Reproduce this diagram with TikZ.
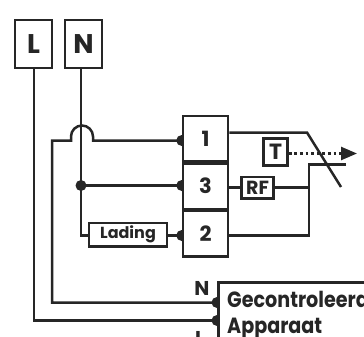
\documentclass[tikz,border=0pt]{standalone}
\usepackage{fontspec}
\setmainfont{Poppins}
\newfontfamily\smalfont{Poppins}[FakeStretch=0.87]
\usetikzlibrary{arrows.meta,backgrounds}

\begin{document}
\begin{tikzpicture}[
    x=1pt, y=-1pt,
    box/.style={draw=black!85, line width=2.5pt, rectangle, fill=white, inner sep=0pt, text=black!85, font=\bfseries},
    dot/.style={circle, fill=black!85, inner sep=0pt, minimum size=11pt},
    wire/.style={draw=black!85, line width=2.5pt, line join=miter},
    lbl/.style={text=black!85, inner sep=0pt, font=\bfseries}
]
    \clip (0,0) rectangle (364,337);
    % Klemmen
    \node[box, minimum width=37pt, minimum height=48pt, font=\bfseries\fontsize{27}{27}\selectfont] (klemL) at (33.5,44) {L};
    \node[box, minimum width=37pt, minimum height=48pt, font=\bfseries\fontsize{27}{27}\selectfont] (klemN) at (83.5,44) {N};

    % Relais
    \node[box, minimum width=45pt, minimum height=45.5pt, font=\bfseries\fontsize{21}{21}\selectfont] (relEen) at (205.5,138.5) {1};
    \node[box, minimum width=45pt, minimum height=45.5pt, font=\bfseries\fontsize{21}{21}\selectfont] (relDrie) at (205.5,186) {3};
    \node[box, minimum width=45pt, minimum height=45.5pt, font=\bfseries\fontsize{21}{21}\selectfont] (relTwee) at (205.5,233.5) {2};

    % Onderdelen
    \node[box, minimum width=78pt, minimum height=23.5pt, font=\bfseries\fontsize{16}{16}\selectfont] (lading) at (128,234.5) {Lading};
    \node[box, minimum width=32pt, minimum height=21.5pt, font=\bfseries\fontsize{19}{19}\selectfont] (rf) at (257.5,187.5) {RF};
    \node[box, minimum width=24pt, minimum height=27pt, font=\bfseries\fontsize{22}{22}\selectfont] (thermo) at (275.5,152) {T};
    \node[draw=black!85, line width=2.5pt, fill=white, rectangle, minimum width=200pt, minimum height=100pt, anchor=north west, inner sep=0pt] (apparaat) at (217,281) {};

    % Teksten
    \node[lbl, anchor=base west, font=\smalfont\bfseries\fontsize{22}{22}\selectfont] (gecontroleerd) at (227,307) {Gecontroleerd};
    \node[lbl, anchor=base west, font=\smalfont\bfseries\fontsize{22}{22}\selectfont] (tekstapp) at (227,333) {Apparaat};
    \node[lbl, font=\bfseries\fontsize{20}{20}\selectfont] (labelN) at (202,288) {N};
    \node[lbl, font=\bfseries\fontsize{20}{20}\selectfont] (labelL) at (200,338) {L};

    % Hulppunten
    \coordinate (hopL) at (71,140.5);
    \coordinate (hopR) at (93,140.5);
    \coordinate (bochtN) at (81,235.5);
    \coordinate (bochtHop) at (52,140.5);
    \coordinate (bochtHopOnder) at (52,302.5);
    \coordinate (bochtL) at (34,320.5);
    \coordinate (knoop) at (81,185.5);
    \coordinate (hoek) at (307,132.5);
    \coordinate (schakelEind) at (341,187);
    \coordinate (contact) at (309,164.5);
    \coordinate (contactEind) at (346,164.5);
    \coordinate (contactOnder) at (309,235.5);
    \coordinate (pijlEind) at (357,153.5);

    \begin{scope}[on background layer]
        % Bedrading links
        \draw[wire] (klemL.south -| bochtL) -- (bochtL) -- (bochtL -| apparaat.west);
        \draw[wire] (klemN.south -| knoop) -- (bochtN) -- (lading.west |- bochtN);
        \draw[wire] (knoop) -- (knoop -| relDrie.west);
        \draw[wire] (lading.east |- bochtN) -- (bochtN -| relTwee.west);
        \draw[wire] (bochtHopOnder -| apparaat.west) -- (bochtHopOnder) -- (bochtHop) -- (hopL) -- ++(0,-4) arc (180:360:11) -- (hopR) -- (hopR -| relEen.west);
        % Punten
        \node[dot] (puntEen) at (hopR -| relEen.west) {};
        \node[dot] (puntDrie) at (knoop -| relDrie.west) {};
        \node[dot] (puntTwee) at (bochtN -| relTwee.west) {};
        \node[dot] (puntKnoop) at (knoop) {};
        \node[dot] (puntN) at (bochtHopOnder -| apparaat.west) {};
        \node[dot] (puntL) at (bochtL -| apparaat.west) {};
    \end{scope}

    % Bedrading rechts
    \draw[wire] (hoek -| relEen.east) -- (hoek) -- (schakelEind);
    \draw[wire] (contactEind) -- (contact) -- (contactOnder) -- (contactOnder -| relTwee.east);
    \draw[wire] (rf.west) -- (rf.west -| relDrie.east);
    \draw[wire] (rf.east) -- (rf.east -| contact);

    % Thermische koppeling
    \draw[wire, dash pattern=on 2.8pt off 2.8pt, -{Triangle[length=16pt,width=13pt,fill=black!85]}] (thermo.east |- pijlEind) -- (pijlEind);
\end{tikzpicture}
\end{document}
